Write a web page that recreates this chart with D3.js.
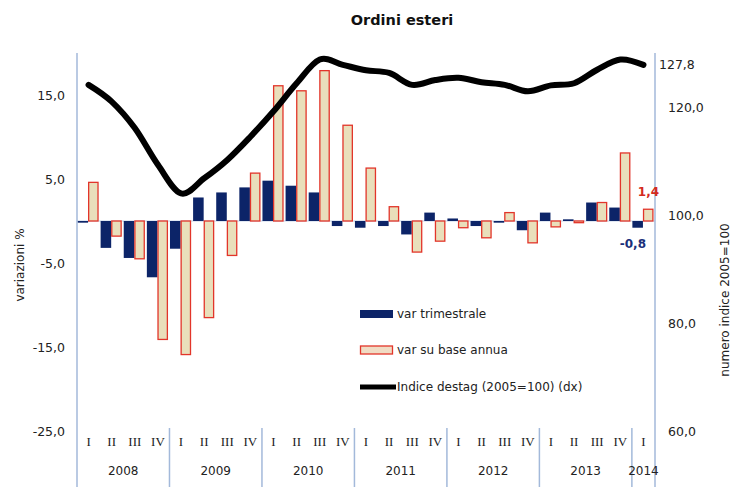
<!DOCTYPE html>
<html>
<head>
<meta charset="utf-8">
<script src="https://cdn.jsdelivr.net/npm/d3@7"></script>
<style>
  body { margin: 0; background: #fff; }
  text { font-family: "DejaVu Sans", Verdana, sans-serif; }
</style>
</head>
<body>
<div id="root"></div>
<script>
const width = 738,
      height = 487

// data
const years = ['2008', '2009', '2010', '2011', '2012', '2013', '2014']
const quarterLabels = ['I', 'II', 'III', 'IV']
const varTrimestrale = [-0.2, -3.2, -4.4, -6.7, -3.3, 2.8, 3.4, 4.0, 4.8, 4.2, 3.4, -0.6,
                        -0.8, -0.6, -1.6, 1.0, 0.3, -0.6, -0.2, -1.1, 1.0, 0.2, 2.2, 1.6, -0.8]
const varAnnua = [4.6, -1.8, -4.5, -14.1, -15.9, -11.5, -4.1, 5.7, 16.1, 15.5, 17.9, 11.4,
                  6.3, 1.7, -3.7, -2.4, -0.8, -2.0, 1.0, -2.6, -0.7, -0.2, 2.2, 8.1, 1.4]
const indice = [124.1, 121.0, 116.1, 109.3, 104.0, 106.8, 110.2, 114.5, 119.2, 124.4, 128.8, 127.8,
                126.8, 126.3, 124.1, 125.0, 125.4, 124.6, 124.1, 122.9, 124.0, 124.4, 126.9, 128.8, 127.8]
const leftTicks = [-25, -15, -5, 5, 15]
const rightTicks = [60, 80, 100, 120]

const navy = '#0c2468',
      beige = '#e9dfbb',
      red = '#e2352a',
      axisBlue = '#a3b9da'

const it = d3.formatLocale({ decimal: ',', thousands: '.', grouping: [3], currency: ['', '€'], minus: '-' })
const fmt = it.format('.1f')

const periods = varTrimestrale.map((d, i) => i)
const plotLeft = 77, plotRight = 655, plotTop = 53, plotBottom = 431

const svg = d3.select('#root')
  .append('svg')
  .attr('width', width)
  .attr('height', height)

const x = d3.scaleBand().domain(periods).range([plotLeft, plotRight])
const xs = d3.scaleBand().domain(['t', 'a']).range([0.5, x.bandwidth() - 1.5])
const yL = d3.scaleLinear().domain([-25, 20]).range([plotBottom, plotTop])
const yR = d3.scaleLinear().domain([60, 130]).range([plotBottom, plotTop])

// title
svg.append('text')
  .attr('x', 402).attr('y', 25)
  .attr('text-anchor', 'middle')
  .style('font-weight', 'bold').style('font-size', '14.5px')
  .attr('fill', '#111')
  .text('Ordini esteri')

// zero line
svg.append('line')
  .attr('x1', plotLeft).attr('x2', plotRight)
  .attr('y1', yL(0)).attr('y2', yL(0))
  .attr('stroke', '#c3d1e6').attr('stroke-width', 1)

// bars
const groups = svg.append('g').selectAll('g')
  .data(periods)
  .enter().append('g')
  .attr('transform', d => `translate(${x(d)},0)`)

groups.append('rect')
  .attr('x', xs('t'))
  .attr('width', xs.bandwidth())
  .attr('y', d => Math.min(yL(0), yL(varTrimestrale[d])))
  .attr('height', d => Math.max(1, Math.abs(yL(varTrimestrale[d]) - yL(0))))
  .attr('fill', navy)

groups.append('rect')
  .attr('x', xs('a') + 0.6)
  .attr('width', xs.bandwidth() - 1.2)
  .attr('y', d => Math.min(yL(0), yL(varAnnua[d])))
  .attr('height', d => Math.abs(yL(varAnnua[d]) - yL(0)))
  .attr('fill', beige)
  .attr('stroke', red)
  .attr('stroke-width', 1.3)

// index line
const line = d3.line()
  .x((d, i) => x(i) + x.bandwidth() / 2)
  .y(d => yR(d))
  .curve(d3.curveCardinal.tension(0))

svg.append('path')
  .datum(indice)
  .attr('d', line)
  .attr('fill', 'none')
  .attr('stroke', '#000')
  .attr('stroke-width', 6)
  .attr('stroke-linecap', 'round')
  .attr('stroke-linejoin', 'round')

// value axes
svg.append('g')
  .attr('transform', `translate(${plotLeft},0)`)
  .call(d3.axisLeft(yL).tickValues(leftTicks).tickFormat(fmt).tickSize(0).tickPadding(12))
svg.append('g')
  .attr('transform', `translate(${plotRight},0)`)
  .call(d3.axisRight(yR).tickValues(rightTicks).tickFormat(fmt).tickSize(0).tickPadding(13))
svg.selectAll('.domain').remove()
svg.selectAll('.tick text')
  .style('font-family', '"DejaVu Sans", Verdana, sans-serif')
  .style('font-size', '12.5px')
  .attr('fill', '#222')

svg.append('line')
  .attr('x1', plotLeft).attr('x2', plotLeft).attr('y1', plotTop).attr('y2', height)
  .attr('stroke', axisBlue).attr('stroke-width', 1.5)
svg.append('line')
  .attr('x1', plotRight).attr('x2', plotRight).attr('y1', plotTop).attr('y2', height)
  .attr('stroke', axisBlue).attr('stroke-width', 1.5)

// category labels
svg.append('g').selectAll('text')
  .data(periods)
  .enter().append('text')
  .attr('x', d => x(d) + x.bandwidth() / 2)
  .attr('y', 446)
  .attr('text-anchor', 'middle')
  .style('font-family', '"Liberation Serif", "Times New Roman", serif')
  .style('font-size', '13px')
  .attr('fill', '#222')
  .text(d => quarterLabels[d % 4])

svg.append('g').selectAll('line')
  .data(d3.range(1, years.length))
  .enter().append('line')
  .attr('x1', d => x(d * 4)).attr('x2', d => x(d * 4))
  .attr('y1', 428).attr('y2', height)
  .attr('stroke', axisBlue).attr('stroke-width', 1.5)

svg.append('g').selectAll('text')
  .data(years)
  .enter().append('text')
  .attr('x', (d, i) => {
    const first = i * 4, last = Math.min(first + 3, periods.length - 1)
    return (x(first) + x(last) + x.bandwidth()) / 2
  })
  .attr('y', 475)
  .attr('text-anchor', 'middle')
  .style('font-size', '12px')
  .attr('fill', '#222')
  .text(d => d)

// axis titles
svg.append('text')
  .attr('transform', 'translate(24,265) rotate(-90)')
  .attr('text-anchor', 'middle')
  .style('font-size', '12px')
  .attr('fill', '#222')
  .text('variazioni %')
svg.append('text')
  .attr('transform', 'translate(729,300) rotate(-90)')
  .attr('text-anchor', 'middle')
  .style('font-size', '12px')
  .attr('fill', '#222')
  .text('numero indice 2005=100')

// last value labels
const lastI = periods.length - 1
svg.append('text')
  .attr('x', plotRight + 4).attr('y', yR(indice[lastI]) + 4)
  .style('font-size', '12.5px').attr('fill', '#222')
  .text(fmt(indice[lastI]))
svg.append('text')
  .attr('x', x(lastI) + x.bandwidth() / 2 + 5).attr('y', yL(varAnnua[lastI]) - 13)
  .attr('text-anchor', 'middle')
  .style('font-size', '12px').style('font-weight', 'bold').attr('fill', '#d42a20')
  .text(fmt(varAnnua[lastI]))
svg.append('text')
  .attr('x', x(lastI) + 1).attr('y', yL(varTrimestrale[lastI]) + 20)
  .attr('text-anchor', 'middle')
  .style('font-size', '12px').style('font-weight', 'bold').attr('fill', '#1a2f7a')
  .text(fmt(varTrimestrale[lastI]))

// legend
const legend = svg.append('g').attr('transform', 'translate(360,0)')
legend.append('rect')
  .attr('x', 0).attr('y', 310).attr('width', 33).attr('height', 8)
  .attr('fill', navy)
legend.append('rect')
  .attr('x', 0.5).attr('y', 346).attr('width', 32).attr('height', 8)
  .attr('fill', '#f0dcc4').attr('stroke', red).attr('stroke-width', 1.3)
legend.append('line')
  .attr('x1', 0).attr('x2', 36).attr('y1', 387).attr('y2', 387)
  .attr('stroke', '#000').attr('stroke-width', 5)
legend.selectAll('text')
  .data(['var trimestrale', 'var su base annua', 'Indice destag (2005=100) (dx)'])
  .enter().append('text')
  .attr('x', 37)
  .attr('y', (d, i) => [318, 354, 391][i])
  .style('font-size', '12px')
  .attr('fill', '#222')
  .text(d => d)
</script>
</body>
</html>
